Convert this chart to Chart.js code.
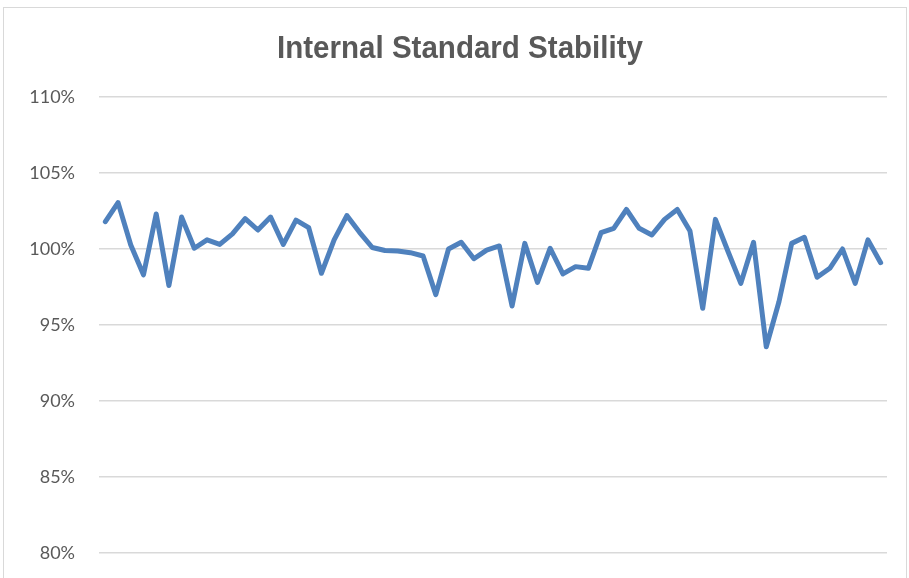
<!DOCTYPE html>
<html>
<head>
<meta charset="utf-8">
<script src="https://cdn.jsdelivr.net/npm/chart.js@4/dist/chart.umd.min.js"></script>
<style>
  html, body { margin: 0; padding: 0; background: #fff; overflow: hidden; }
  canvas { display: block; }
</style>
</head>
<body>
<canvas id="grafica" width="909" height="578"></canvas>
<script>
// sample runs (percent of initial response)
const runs = [];
for (let i = 1; i <= 62; i++) runs.push(i);

const recovery = [
  101.8, 103.05, 100.26, 98.3, 102.3, 97.6, 102.1, 100.05, 100.6, 100.3,
  101.0, 102.0, 101.25, 102.1, 100.3, 101.9, 101.4, 98.4, 100.6, 102.2,
  101.1, 100.1, 99.9, 99.87, 99.76, 99.54, 97.0, 100.0, 100.44, 99.36,
  99.93, 100.2, 96.25, 100.37, 97.8, 100.05, 98.36, 98.84, 98.73, 101.07,
  101.36, 102.6, 101.36, 100.92, 101.95, 102.6, 101.18, 96.1, 101.95, 99.82,
  97.74, 100.44, 93.57, 96.53, 100.37, 100.77, 98.14, 98.73, 100.0, 97.74,
  100.6, 99.1
];

const yMin = 80, yMax = 110, yStep = 5;
const chartTitle = 'Internal Standard Stability';

// light border round the chart, and a narrow bold title like the spreadsheet one
const frame = {
  id: 'frame',
  beforeDraw(chart) {
    const c = chart.ctx;
    c.save();
    c.strokeStyle = '#d9d9d9';
    c.lineWidth = 1;
    c.strokeRect(3.5, 7.5, 903, 600);
    c.restore();
  },
  afterDraw(chart) {
    const c = chart.ctx;
    c.save();
    c.font = "bold 32px 'Liberation Sans', Arial, sans-serif";
    c.fillStyle = '#595959';
    c.textAlign = 'center';
    c.textBaseline = 'alphabetic';
    const w = c.measureText(chartTitle).width;
    c.translate(460, 58);
    c.scale(366 / w, 1);
    c.fillText(chartTitle, 0, 0);
    c.restore();
  }
};

const graph = document.querySelector('#grafica');

new Chart(graph, {
  type: 'line',
  data: {
    labels: runs,
    datasets: [{
      label: 'Internal Standard',
      data: recovery,
      borderColor: '#4f81bd',
      backgroundColor: '#4f81bd',
      borderWidth: 5,
      borderJoinStyle: 'round',
      borderCapStyle: 'round',
      pointRadius: 0,
      tension: 0
    }]
  },
  options: {
    responsive: false,
    animation: false,
    layout: { padding: { left: 0, right: 22, top: 97, bottom: 25 } },
    plugins: {
      legend: { display: false },
      tooltip: { enabled: false },
      title: { display: false }
    },
    scales: {
      x: {
        display: false,
        offset: true
      },
      y: {
        min: yMin,
        max: yMax,
        afterFit(scale) {
          scale.width = 99;
          // tick padding would otherwise be added above/below the plot too
          scale.paddingTop = 11;
          scale.paddingBottom = 11;
        },
        border: { display: false },
        grid: { color: '#d9d9d9', lineWidth: 1.5, drawTicks: false },
        ticks: {
          stepSize: yStep,
          padding: 24,
          color: '#595959',
          font: { family: "Lato, 'Open Sans', sans-serif", size: 18 },
          callback: v => v + '%'
        }
      }
    }
  },
  plugins: [frame]
});
</script>
</body>
</html>
